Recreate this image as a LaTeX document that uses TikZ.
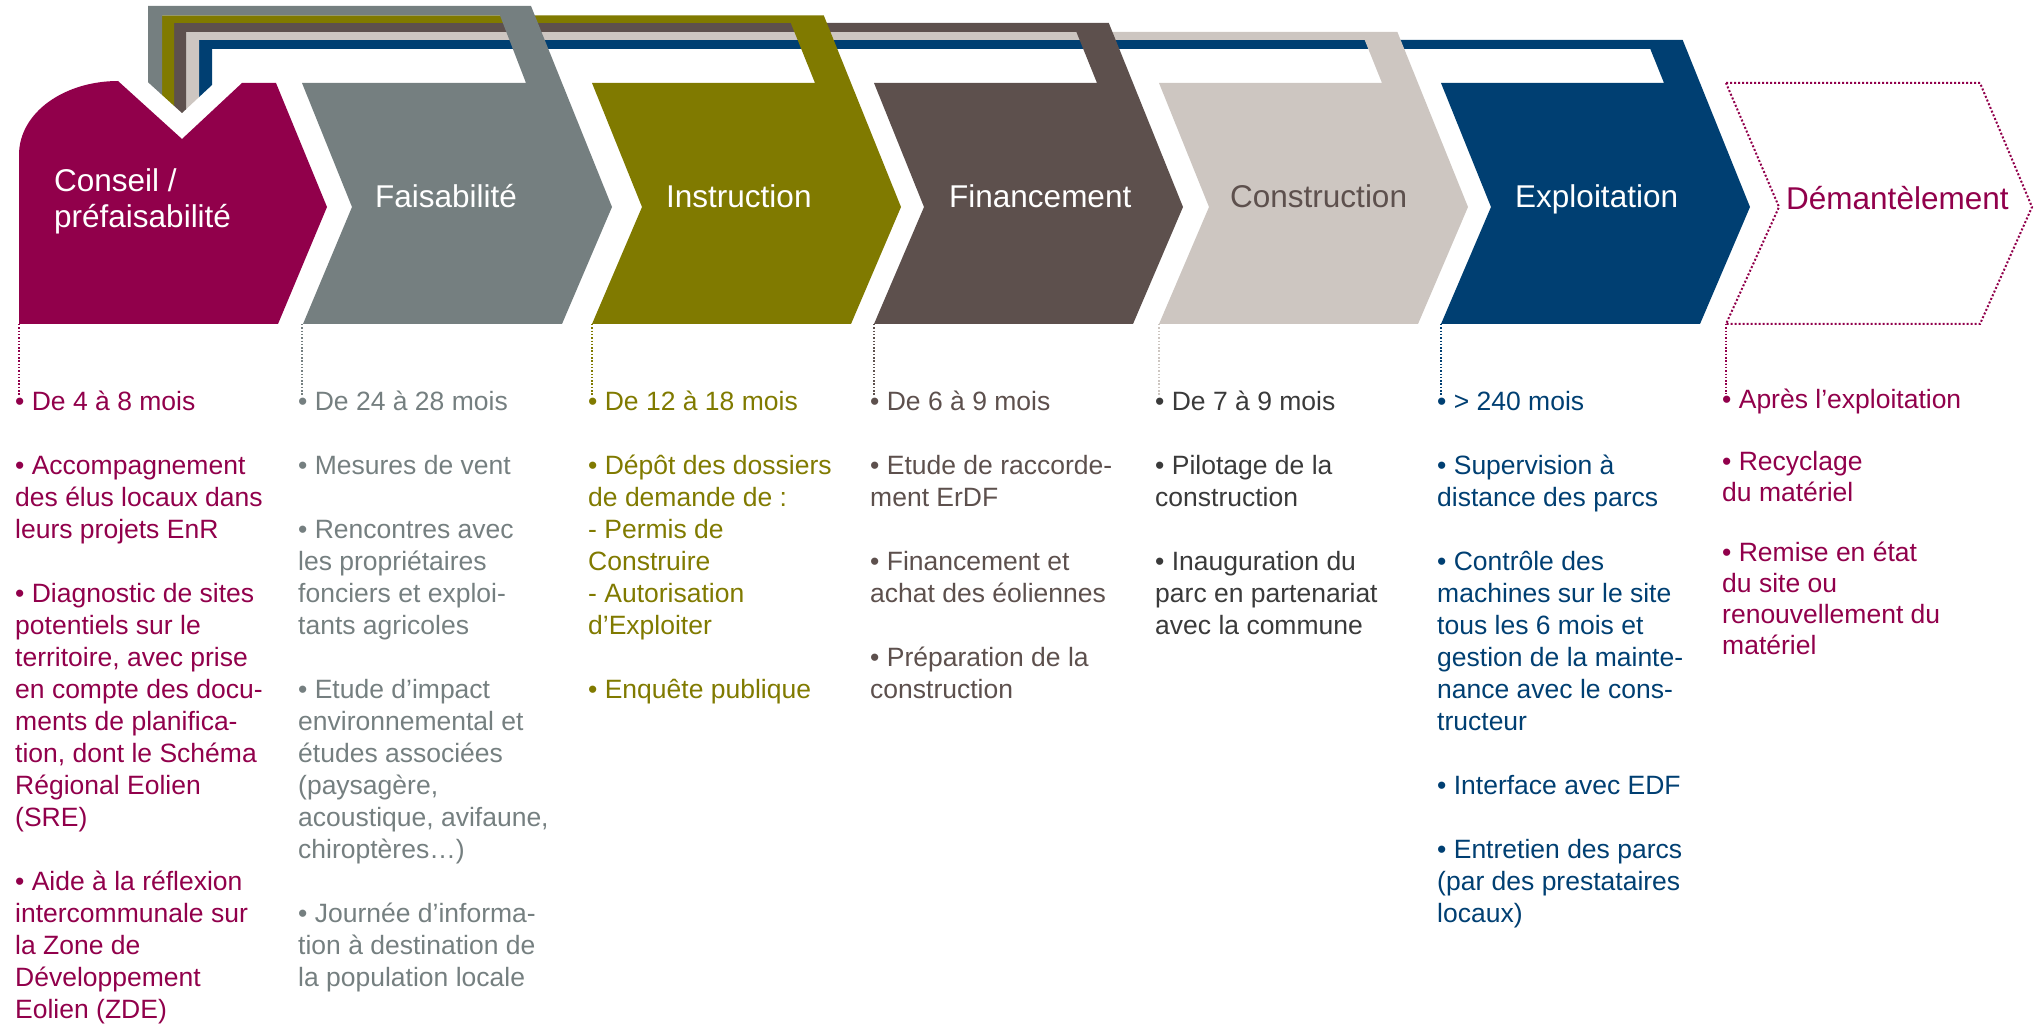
\documentclass[tikz,border=0pt]{standalone}
\usepackage{fontspec}
\setmainfont{Liberation Sans}
\usepackage{xcolor}
\definecolor{conseilc}{RGB}{145,0,75}
\definecolor{faisac}{RGB}{117,127,128}
\definecolor{instrc}{RGB}{128,122,0}
\definecolor{financ}{RGB}{93,80,77}
\definecolor{constrc}{RGB}{205,198,193}
\definecolor{exploic}{RGB}{0,63,114}
\definecolor{textec}{RGB}{58,58,58}

\begin{document}
\begin{tikzpicture}[x=1pt,y=-1pt,
    titre/.style={anchor=base west,inner sep=0pt,font=\fontsize{31.5}{36}\selectfont},
    liste/.style={anchor=base west,inner sep=0pt,font=\fontsize{26.5}{32}\selectfont},
    pointille/.style={line width=1.5pt,dash pattern=on 1.5pt off 1.8pt}]

      \useasboundingbox (0,0) rectangle (2040,1024);

      % bandes du haut + fleches (de l'interieur vers l'exterieur)
      \fill[exploic] (199,97.1) -- (199,40) -- (1682.7,40) -- (1750,207) -- (1700,324) -- (1441,324)
            -- (1491,207) -- (1441,83) -- (1664,83) -- (1650.3,49) -- (212,49) -- (212,85) -- cycle;
      \fill[constrc] (186,109.3) -- (186,32) -- (1397.4,32) -- (1468,207) -- (1418,324) -- (1159,324)
            -- (1209,207) -- (1159,83) -- (1382,83) -- (1364.7,40) -- (199,40) -- (199,97.1) -- cycle;
      \fill[financ] (174,105.8) -- (174,23) -- (1108.8,23) -- (1183,207) -- (1133,324) -- (874,324)
            -- (924,207) -- (874,83) -- (1097,83) -- (1076.4,32) -- (186,32) -- (186,109.3) -- (182,113) -- cycle;
      \fill[instrc] (162,94.9) -- (162,15.5) -- (823.8,15.5) -- (901,207) -- (851,324) -- (592,324)
            -- (642,207) -- (592,83) -- (815,83) -- (790.8,23) -- (174,23) -- (174,105.8) -- cycle;
      \fill[faisac] (148,82.2) -- (148,6) -- (531,6) -- (612,207) -- (562,324) -- (303,324)
            -- (352,207) -- (302,83) -- (526,83) -- (500,15.5) -- (162,15.5) -- (162,94.9) -- cycle;

      \fill[conseilc] (19,324) -- (19,155) .. controls (19,112) and (65,81) .. (118,81) -- (182,139)
            -- (242,83) -- (276,83) -- (327,207) -- (278,324) -- cycle;

      \draw[conseilc,line width=2pt,dash pattern=on 2pt off 2pt] (1726,83) -- (1980,83) -- (2032,207)
            -- (1980,324) -- (1726,324) -- (1779,207) -- cycle;

      % titres
      \node[titre,text=white] (T1) at (54,192) {\parbox[t]{300pt}{Conseil /\\préfaisabilité}};
      \node[titre,text=white] (T2) at (375,208) {Faisabilité};
      \node[titre,text=white] (T3) at (666,208) {Instruction};
      \node[titre,text=white] (T4) at (949,208) {Financement};
      \node[titre,text=financ] (T5) at (1230,208) {Construction};
      \node[titre,text=white] (T6) at (1515,208) {Exploitation};
      \node[titre,text=conseilc] (T7) at (1786,210) {Démantèlement};

      % pointilles
      \coordinate (k1) at (19,324);   \coordinate (p1) at (19,395);
      \coordinate (k2) at (302,324);  \coordinate (p2) at (302,395);
      \coordinate (k3) at (592,324);  \coordinate (p3) at (592,395);
      \coordinate (k4) at (874,324);  \coordinate (p4) at (874,395);
      \coordinate (k5) at (1159,324); \coordinate (p5) at (1159,395);
      \coordinate (k6) at (1441,324); \coordinate (p6) at (1441,395);
      \coordinate (k7) at (1726,324); \coordinate (p7) at (1726,394);

      \draw[pointille,conseilc] (k1) -- (p1);
      \draw[pointille,faisac] (k2) -- (p2);
      \draw[pointille,instrc] (k3) -- (p3);
      \draw[pointille,financ] (k4) -- (p4);
      \draw[pointille,constrc] (k5) -- (p5);
      \draw[pointille,exploic] (k6) -- (p6);
      \draw[pointille,conseilc] (k7) -- (p7);

      % textes
      \node[liste,text=conseilc] (L1) at (15,410) {\parbox[t]{300pt}{\raggedright
            • De 4 à 8 mois\\[32pt]
            • Accompagnement\\des élus locaux dans\\leurs projets EnR\\[32pt]
            • Diagnostic de sites\\potentiels sur le\\territoire, avec prise\\en compte des docu-\\ments de planifica-\\tion, dont le Schéma\\Régional Eolien\\(SRE)\\[32pt]
            • Aide à la réflexion\\intercommunale sur\\la Zone de\\Développement\\Eolien (ZDE)}};
      \node[liste,text=faisac] (L2) at (298,410) {\parbox[t]{300pt}{\raggedright
            • De 24 à 28 mois\\[32pt]
            • Mesures de vent\\[32pt]
            • Rencontres avec\\les propriétaires\\fonciers et exploi-\\tants agricoles\\[32pt]
            • Etude d’impact\\environnemental et\\études associées\\(paysagère,\\acoustique, avifaune,\\chiroptères…)\\[32pt]
            • Journée d’informa-\\tion à destination de\\la population locale}};
      \node[liste,text=instrc] (L3) at (588,410) {\parbox[t]{300pt}{\raggedright
            • De 12 à 18 mois\\[32pt]
            • Dépôt des dossiers\\de demande de :\\- Permis de\\Construire\\- Autorisation\\d’Exploiter\\[32pt]
            • Enquête publique}};
      \node[liste,text=financ] (L4) at (870,410) {\parbox[t]{300pt}{\raggedright
            • De 6 à 9 mois\\[32pt]
            • Etude de raccorde-\\ment ErDF\\[32pt]
            • Financement et\\achat des éoliennes\\[32pt]
            • Préparation de la\\construction}};
      \node[liste,text=textec] (L5) at (1155,410) {\parbox[t]{300pt}{\raggedright
            • De 7 à 9 mois\\[32pt]
            • Pilotage de la\\construction\\[32pt]
            • Inauguration du\\parc en partenariat\\avec la commune}};
      \node[liste,text=exploic] (L6) at (1437,410) {\parbox[t]{300pt}{\raggedright
            • > 240 mois\\[32pt]
            • Supervision à\\distance des parcs\\[32pt]
            • Contrôle des\\machines sur le site\\tous les 6 mois et\\gestion de la mainte-\\nance avec le cons-\\tructeur\\[32pt]
            • Interface avec EDF\\[32pt]
            • Entretien des parcs\\(par des prestataires\\locaux)}};
      \node[liste,text=conseilc,font=\fontsize{26.5}{31}\selectfont] (L7) at (1722,408.5) {\parbox[t]{300pt}{\raggedright
            • Après l’exploitation\\[31pt]
            • Recyclage\\du matériel\\[29pt]
            • Remise en état\\du site ou\\renouvellement du\\matériel}};
\end{tikzpicture}
\end{document}
